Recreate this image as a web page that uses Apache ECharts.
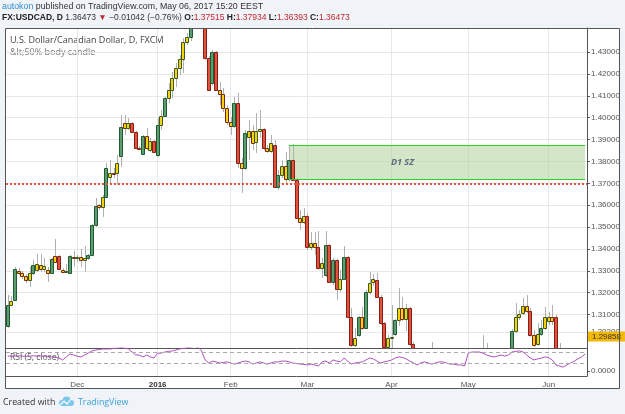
<!DOCTYPE html>
<html>
<head>
<meta charset="utf-8">
<style>
  html, body { margin: 0; padding: 0; background: #fff; }
  #chart { width: 625px; height: 414px; }
</style>
<script src="https://cdn.jsdelivr.net/npm/echarts@6/dist/echarts.min.js"></script>
</head>
<body>
<div id="chart"></div>
<script>
// daily bars, FXCM feed skips Christmas and New Year
const firstDay = '2015-11-04';
const lastDay = '2016-06-15';
const holidays = ['2015-12-25', '2016-01-01'];

const opens = [
  1.3048,1.3144,1.3167,1.3300,1.3290,1.3276,1.3258,1.3290,1.3304,1.3327,
  1.3309,1.3304,1.3290,1.3368,1.3368,1.3304,1.3295,1.3290,1.3364,1.3359,
  1.3364,1.3350,1.3359,1.3373,1.3510,1.3601,1.3592,1.3638,1.3729,1.3747,
  1.3747,1.3825,1.3976,1.3953,1.3976,1.3935,1.3862,1.3834,1.3916,1.3852,
  1.3893,1.3830,1.3967,1.4008,1.4090,1.4126,1.4181,1.4227,1.4268,1.4346,
  1.4369,1.4445,1.4540,1.4610,1.4560,1.4273,1.4158,1.4300,1.4126,1.4108,
  1.4044,1.3980,1.3962,1.4067,1.3793,1.3770,1.3912,1.3939,1.3889,1.3939,
  1.3948,1.3862,1.3848,1.3875,1.3682,1.3737,1.3779,1.3719,1.3806,1.3715,
  1.3542,1.3523,1.3551,1.3409,1.3427,1.3409,1.3313,1.3281,1.3418,1.3249,
  1.3350,1.3217,1.3263,1.3364,1.3089,1.2961,1.3007,1.3089,1.3039,1.3203,
  1.3249,1.3258,1.3180,1.3061,1.2952,1.2993,1.3011,1.3075,1.3130,1.3080,
  1.3130,1.2965,1.2870,1.2800,1.2760,1.2850,1.2820,1.2880,1.2790,1.2700,
  1.2640,1.2680,1.2690,1.2660,1.2600,1.2550,1.2540,1.2600,1.2790,1.2850,
  1.2880,1.2920,1.2900,1.2870,1.2830,1.2880,1.2860,1.2900,1.2900,1.3025,
  1.3089,1.3107,1.3139,1.3116,1.3007,1.2966,1.3011,1.3039,1.3071,1.3089,
  1.3089,1.2890,1.2860,1.2830,1.2780,1.2810,1.2850,1.2880,1.2900
];
const highs = [
  1.3190,1.3185,1.3318,1.3313,1.3300,1.3285,1.3318,1.3350,1.3377,1.3377,
  1.3359,1.3318,1.3359,1.3446,1.3372,1.3313,1.3331,1.3372,1.3391,1.3372,
  1.3400,1.3413,1.3377,1.3515,1.3633,1.3606,1.3647,1.3793,1.3807,1.3770,
  1.3830,1.4012,1.4012,1.3999,1.3981,1.3940,1.3871,1.3921,1.3953,1.3907,
  1.3898,1.3999,1.4035,1.4095,1.4158,1.4209,1.4250,1.4286,1.4364,1.4387,
  1.4460,1.4565,1.4690,1.4660,1.4585,1.4282,1.4309,1.4305,1.4163,1.4136,
  1.4058,1.4003,1.4095,1.4113,1.3816,1.3944,1.3989,1.3967,1.4021,1.4035,
  1.3953,1.3875,1.3921,1.3898,1.3761,1.3806,1.3843,1.3875,1.3880,1.3724,
  1.3578,1.3587,1.3560,1.3477,1.3477,1.3482,1.3359,1.3482,1.3423,1.3359,
  1.3354,1.3304,1.3413,1.3368,1.3130,1.3039,1.3094,1.3135,1.3212,1.3295,
  1.3285,1.3290,1.3190,1.3066,1.3007,1.3144,1.3080,1.3222,1.3180,1.3148,
  1.3135,1.2975,1.2890,1.2830,1.2870,1.2900,1.2975,1.2900,1.2810,1.2720,
  1.2710,1.2730,1.2720,1.2680,1.2620,1.2570,1.2620,1.2810,1.2880,1.2910,
  1.3007,1.2970,1.2930,1.2900,1.2910,1.2920,1.2930,1.2935,1.3034,1.3153,
  1.3121,1.3176,1.3190,1.3130,1.3029,1.3061,1.3075,1.3135,1.3112,1.3144,
  1.3098,1.2970,1.2900,1.2850,1.2840,1.2870,1.2900,1.2920,1.2935
];
const lows = [
  1.3039,1.3140,1.3162,1.3281,1.3263,1.3244,1.3226,1.3281,1.3295,1.3295,
  1.3295,1.3249,1.3285,1.3336,1.3304,1.3290,1.3290,1.3285,1.3318,1.3340,
  1.3318,1.3295,1.3350,1.3368,1.3501,1.3578,1.3546,1.3633,1.3693,1.3724,
  1.3693,1.3775,1.3921,1.3944,1.3930,1.3857,1.3852,1.3830,1.3852,1.3843,
  1.3839,1.3821,1.3944,1.4003,1.4067,1.4090,1.4140,1.4195,1.4204,1.4332,
  1.4350,1.4432,1.4515,1.4480,1.4263,1.4122,1.4149,1.4122,1.4058,1.4026,
  1.3966,1.3921,1.3953,1.3770,1.3656,1.3761,1.3806,1.3852,1.3839,1.3907,
  1.3852,1.3839,1.3839,1.3678,1.3669,1.3724,1.3692,1.3710,1.3710,1.3537,
  1.3487,1.3514,1.3395,1.3395,1.3372,1.3304,1.3267,1.3272,1.3244,1.3235,
  1.3167,1.3203,1.3258,1.3084,1.2952,1.2952,1.2998,1.3029,1.3034,1.3190,
  1.3231,1.3176,1.3052,1.2943,1.2934,1.2943,1.3002,1.3048,1.3071,1.3025,
  1.2956,1.2850,1.2790,1.2720,1.2740,1.2800,1.2810,1.2770,1.2680,1.2610,
  1.2590,1.2640,1.2630,1.2580,1.2520,1.2470,1.2460,1.2590,1.2760,1.2820,
  1.2860,1.2870,1.2850,1.2800,1.2810,1.2840,1.2850,1.2860,1.2890,1.3016,
  1.3075,1.3098,1.3107,1.2998,1.2952,1.2957,1.3002,1.3029,1.3052,1.3052,
  1.2870,1.2840,1.2800,1.2760,1.2750,1.2790,1.2830,1.2860,1.2880
];
const closes = [
  1.3144,1.3162,1.3309,1.3290,1.3276,1.3258,1.3290,1.3327,1.3331,1.3309,
  1.3322,1.3290,1.3354,1.3340,1.3309,1.3295,1.3300,1.3368,1.3359,1.3364,
  1.3350,1.3359,1.3373,1.3510,1.3597,1.3592,1.3638,1.3770,1.3747,1.3743,
  1.3793,1.3957,1.3953,1.3976,1.3935,1.3862,1.3860,1.3916,1.3862,1.3893,
  1.3843,1.3967,1.4008,1.4090,1.4126,1.4181,1.4227,1.4268,1.4346,1.4369,
  1.4445,1.4540,1.4610,1.4560,1.4273,1.4126,1.4300,1.4126,1.4108,1.4044,
  1.3980,1.3962,1.4067,1.3793,1.3770,1.3930,1.3939,1.3884,1.3939,1.3948,
  1.3862,1.3848,1.3884,1.3682,1.3737,1.3779,1.3719,1.3806,1.3715,1.3542,
  1.3523,1.3551,1.3409,1.3427,1.3409,1.3313,1.3336,1.3418,1.3249,1.3350,
  1.3217,1.3263,1.3364,1.3089,1.2961,1.2993,1.3089,1.3039,1.3203,1.3244,
  1.3263,1.3180,1.3061,1.2952,1.2993,1.2998,1.3075,1.3130,1.3080,1.3130,
  1.2965,1.2870,1.2800,1.2760,1.2850,1.2820,1.2880,1.2790,1.2700,1.2640,
  1.2680,1.2690,1.2660,1.2600,1.2550,1.2540,1.2600,1.2790,1.2850,1.2880,
  1.2920,1.2900,1.2870,1.2830,1.2880,1.2860,1.2900,1.2890,1.3025,1.3089,
  1.3103,1.3139,1.3116,1.3007,1.2961,1.3011,1.3039,1.3089,1.3089,1.3071,
  1.2890,1.2860,1.2830,1.2780,1.2810,1.2850,1.2880,1.2900,1.2910
];
// body colour of the "<50% body candle" study: G green, R red, Y yellow
const kinds = [
  'GYGYYYYGYY', 'YYGYRYYGYY', 'YYGGGYYGYY', 'YGYYRRYGYY', 'RGYGYYYYYY',
  'GGGRRRGRYY', 'YYGRYGYYYY', 'RYYRGYYGRR', 'YYRYYRYGRG', 'RYGRRYGYGY',
  'YRRRYYGYYY', 'RRRRGRGRRR', 'GGRRRRGGGG', 'GRRRGRGRGY', 'YYYRYYGYYY',
  'RRRRGGGGG'
].join('');
const rsi = [
  55,55,55,56,55,54,55,56,55,55, 55,54,52,52,48,41,52,63,59,55,
  52,59,66,74,77,79,81,81,81,83, 84,86,84,81,70,59,59,52,59,52,
  48,66,66,70,72,74,77,81,83,85, 88,90,88,74,41,30,37,34,30,32,
  34,30,26,30,34,37,34,26,30,34, 30,26,30,34,34,37,37,34,30,28,
  26,25,23,26,23,19,34,37,30,41, 37,34,48,37,26,30,32,34,41,48,
  45,37,30,34,37,41,48,52,50,45, 37,30,23,30,34,30,26,30,34,34,
  30,26,26,23,23,19,66,70,70,70, 66,59,55,52,55,59,55,59,70,72,
  74,70,59,48,41,45,48,52,50,41, 23,19,15,23,30,37,45,52,63
];

const priceTicks = [1.302,1.31,1.32,1.33,1.34,1.35,1.36,1.37,1.38,1.39,1.40,1.41,1.42,1.43];
const zoneTop = 1.3874, zoneBottom = 1.3719, zoneStart = 77, zoneLabelAt = 108;
const redLevel = 1.3665;
const lastPrice = 1.29858;

const dates = [];
for (let d = new Date(firstDay + 'T00:00:00Z'); d <= new Date(lastDay + 'T00:00:00Z'); d.setUTCDate(d.getUTCDate() + 1)) {
  const s = d.toISOString().slice(0, 10);
  const wd = d.getUTCDay();
  if (wd === 0 || wd === 6 || holidays.includes(s)) continue;
  dates.push(s);
}
const monthNames = ['Jan','Feb','Mar','Apr','May','Jun','Jul','Aug','Sep','Oct','Nov','Dec'];
const isMonthStart = i => i > 0 && dates[i].slice(5, 7) !== dates[i - 1].slice(5, 7);

const fills = {G: '#5b9d70', R: '#e0533e', Y: '#f6d20e'};
const candles = dates.map((d, i) => [i, opens[i], closes[i], lows[i], highs[i]]);

// one candle: grey wick (offset a hair right like the TV ghost) + coloured body
function renderCandle(params, api) {
  const i = api.value(0);
  const o = api.coord([i, api.value(1)]);
  const c = api.coord([i, api.value(2)]);
  const lo = api.coord([i, api.value(3)]);
  const hi = api.coord([i, api.value(4)]);
  const cx = Math.round(o[0]);
  const k = kinds[i];
  const up = api.value(2) >= api.value(1);
  const edge = k === 'G' ? '#1f5a31' : k === 'R' ? '#8a1e12' : (up ? '#3a5a22' : '#7a2a12');
  const top = Math.round(Math.min(o[1], c[1]));
  const bottom = Math.round(Math.max(o[1], c[1]));
  return {
    type: 'group',
    children: [
      {type: 'line', shape: {x1: cx + 0.5, y1: hi[1], x2: cx + 0.5, y2: lo[1]}, style: {stroke: '#b0b0b0', lineWidth: 1}},
      {type: 'rect', shape: {x: cx - 1.5, y: top + 0.5, width: 3, height: Math.max(bottom - top, 1)}, style: {fill: fills[k], stroke: edge, lineWidth: 1}}
    ]
  };
}

const gridColor = '#e8e8e8';
const axisColor = '#555';
const font = '"Open Sans", sans-serif';
const axisFont = '"Liberation Sans", Arial, sans-serif';

const chart = echarts.init(document.getElementById('chart'));
chart.setOption({
  animation: false,
  backgroundColor: '#fff',
  textStyle: {fontFamily: font},
  grid: [
    {left: 6, right: 38, top: 28, height: 320},
    {left: 6, right: 38, top: 348, height: 28}
  ],
  xAxis: [
    {
      type: 'category', gridIndex: 0, data: dates, boundaryGap: true,
      axisLine: {onZero: false, lineStyle: {color: axisColor}},
      axisTick: {show: false}, axisLabel: {show: false},
      splitLine: {show: true, interval: isMonthStart, alignWithLabel: true, lineStyle: {color: gridColor}}
    },
    {
      type: 'category', gridIndex: 1, data: dates, boundaryGap: true,
      axisLine: {onZero: false, lineStyle: {color: axisColor}},
      axisTick: {show: false},
      axisLabel: {
        interval: isMonthStart, color: axisColor, fontSize: 8, margin: 5, fontFamily: axisFont,
        formatter: v => {
          const m = +v.slice(5, 7);
          return m === 1 ? '{b|' + v.slice(0, 4) + '}' : monthNames[m - 1];
        },
        rich: {b: {fontWeight: 'bold', color: '#333', fontSize: 8, fontFamily: axisFont}}
      },
      splitLine: {show: true, interval: isMonthStart, alignWithLabel: true, lineStyle: {color: gridColor}}
    }
  ],
  yAxis: [
    {
      type: 'value', gridIndex: 0, position: 'right', min: 1.2947, max: 1.4410,
      axisLine: {show: true, lineStyle: {color: axisColor}},
      axisTick: {show: true, length: 3, customValues: priceTicks, lineStyle: {color: axisColor}},
      axisLabel: {
        customValues: priceTicks, color: axisColor, fontSize: 8, margin: 4, fontFamily: axisFont,
        formatter: v => v.toFixed(5)
      },
      splitLine: {show: true, lineStyle: {color: gridColor}}
    },
    {
      type: 'value', gridIndex: 1, position: 'right', min: -17.3, max: 84.5,
      axisLine: {show: true, lineStyle: {color: axisColor}},
      axisTick: {show: true, length: 3, customValues: [0], lineStyle: {color: axisColor}},
      axisLabel: {
        customValues: [0], color: axisColor, fontSize: 8, margin: 4, fontFamily: axisFont,
        formatter: v => v.toFixed(4)
      },
      splitLine: {show: false}
    }
  ],
  series: [
    {
      type: 'custom', xAxisIndex: 0, yAxisIndex: 0, data: candles, clip: true, z: 3,
      renderItem: renderCandle,
      encode: {x: 0, y: [1, 2, 3, 4]},
      markArea: {
        silent: true, z: 1,
        itemStyle: {color: 'rgba(168, 208, 146, 0.5)'},
        data: [[{coord: [zoneStart, zoneTop]}, {coord: [dates.length - 1, zoneBottom]}]]
      },
      markLine: {
        silent: true, symbol: ['none', 'none'],
        label: {show: false},
        data: [
          [{coord: [zoneStart, zoneTop]}, {coord: [dates.length - 1, zoneTop], lineStyle: {color: '#2bd22b', width: 1, type: 'solid'}}],
          [{coord: [zoneStart, zoneBottom]}, {coord: [dates.length - 1, zoneBottom], lineStyle: {color: '#2bd22b', width: 1, type: 'solid'}}],
          {yAxis: redLevel, lineStyle: {color: '#e2553f', width: 2, type: [2, 2]}},
          {
            yAxis: lastPrice, lineStyle: {color: 'transparent', width: 0},
            label: {
              show: true, position: 'end', distance: 1, formatter: '1.29858',
              backgroundColor: '#f3b705', color: '#333', fontSize: 8, padding: [1, 4], fontFamily: axisFont
            }
          }
        ]
      },
      markPoint: {
        silent: true, symbol: 'circle', symbolSize: 1, itemStyle: {color: 'transparent'},
        label: {show: true, position: 'inside', formatter: 'D1 SZ', color: '#5a6a80', fontStyle: 'italic', fontWeight: 'bold', fontSize: 9},
        data: [{coord: [zoneLabelAt, (zoneTop + zoneBottom) / 2]}]
      }
    },
    {
      type: 'line', xAxisIndex: 1, yAxisIndex: 1, data: rsi, symbol: 'none', z: 3,
      lineStyle: {color: '#b04fc2', width: 1},
      markLine: {
        silent: true, symbol: ['none', 'none'], label: {show: false},
        lineStyle: {color: '#aaa', type: [4, 3], width: 1},
        data: [{yAxis: 70}, {yAxis: 30}]
      }
    }
  ],
  graphic: [
    {type: 'rect', silent: true, z: 0, shape: {x: 0, y: 0, width: 625, height: 28}, style: {fill: '#f0f3f7'}},
    {type: 'rect', silent: true, z: 0, shape: {x: 0, y: 389, width: 625, height: 25}, style: {fill: '#f0f3f7'}},
    {type: 'rect', silent: true, z: 0, shape: {x: 0, y: 28, width: 5, height: 361}, style: {fill: '#f0f3f7'}},
    {type: 'rect', silent: true, z: 0, shape: {x: 620, y: 28, width: 5, height: 361}, style: {fill: '#f0f3f7'}},
    {type: 'rect', silent: true, z: 10, shape: {x: 5.5, y: 28.5, width: 614, height: 360}, style: {fill: 'none', stroke: axisColor, lineWidth: 1}},
    {
      type: 'text', x: 2, y: 7, silent: true,
      style: {
        text: '{a|autokon}{b| published on TradingView.com, May 06, 2017 15:20 EEST}',
        verticalAlign: 'middle', font: '8.8px ' + font,
        rich: {a: {fill: '#2e8fd0', fontSize: 8.8}, b: {fill: '#333', fontSize: 8.8}}
      }
    },
    {
      type: 'text', x: 2, y: 18, silent: true,
      style: {
        text: '{k|FX:USDCAD, D}{n| 1.36473 }{r|\u25BC}{n| \u22120.01042 (\u22120.76%) }{k|O:}{r|1.37515}{k| H:}{r|1.37934}{k| L:}{r|1.36393}{k| C:}{r|1.36473}',
        verticalAlign: 'middle', font: '8.5px ' + font,
        rich: {
          k: {fill: '#222', fontWeight: 'bold', fontSize: 8.5},
          n: {fill: '#333', fontSize: 8.5},
          r: {fill: '#c0282d', fontSize: 8.5}
        }
      }
    },
    {type: 'text', x: 10, y: 40, silent: true, style: {text: 'U.S. Dollar/Canadian Dollar, D, FXCM', fill: '#444', font: '9px ' + font, verticalAlign: 'middle'}},
    {type: 'text', x: 10, y: 52, silent: true, style: {text: '&lt;50% body candle', fill: '#777', font: '9px ' + font, verticalAlign: 'middle'}},
    {type: 'text', x: 10, y: 358, silent: true, style: {text: 'RSI (5, close)', fill: '#555', font: '8.5px ' + font, verticalAlign: 'middle'}},
    {type: 'text', x: 3, y: 402, silent: true, style: {text: 'Created with', fill: '#333', font: '8.8px ' + font, verticalAlign: 'middle'}},
    {type: 'circle', silent: true, shape: {cx: 62, cy: 403, r: 3}, style: {fill: '#7cc6ec'}},
    {type: 'circle', silent: true, shape: {cx: 66.5, cy: 400.5, r: 4}, style: {fill: '#7cc6ec'}},
    {type: 'circle', silent: true, shape: {cx: 71, cy: 403, r: 3}, style: {fill: '#7cc6ec'}},
    {type: 'rect', silent: true, shape: {x: 62, y: 402, width: 9, height: 4}, style: {fill: '#7cc6ec'}},
    {type: 'polyline', silent: true, shape: {points: [[60, 405], [64, 401], [67, 404], [71, 399]]}, style: {stroke: '#fff', lineWidth: 1.2, fill: 'none'}},
    {type: 'text', x: 78, y: 402, silent: true, style: {text: 'TradingView', fill: '#3aa0d8', font: '8.8px ' + font, verticalAlign: 'middle'}}
  ]
});
</script>
</body>
</html>
